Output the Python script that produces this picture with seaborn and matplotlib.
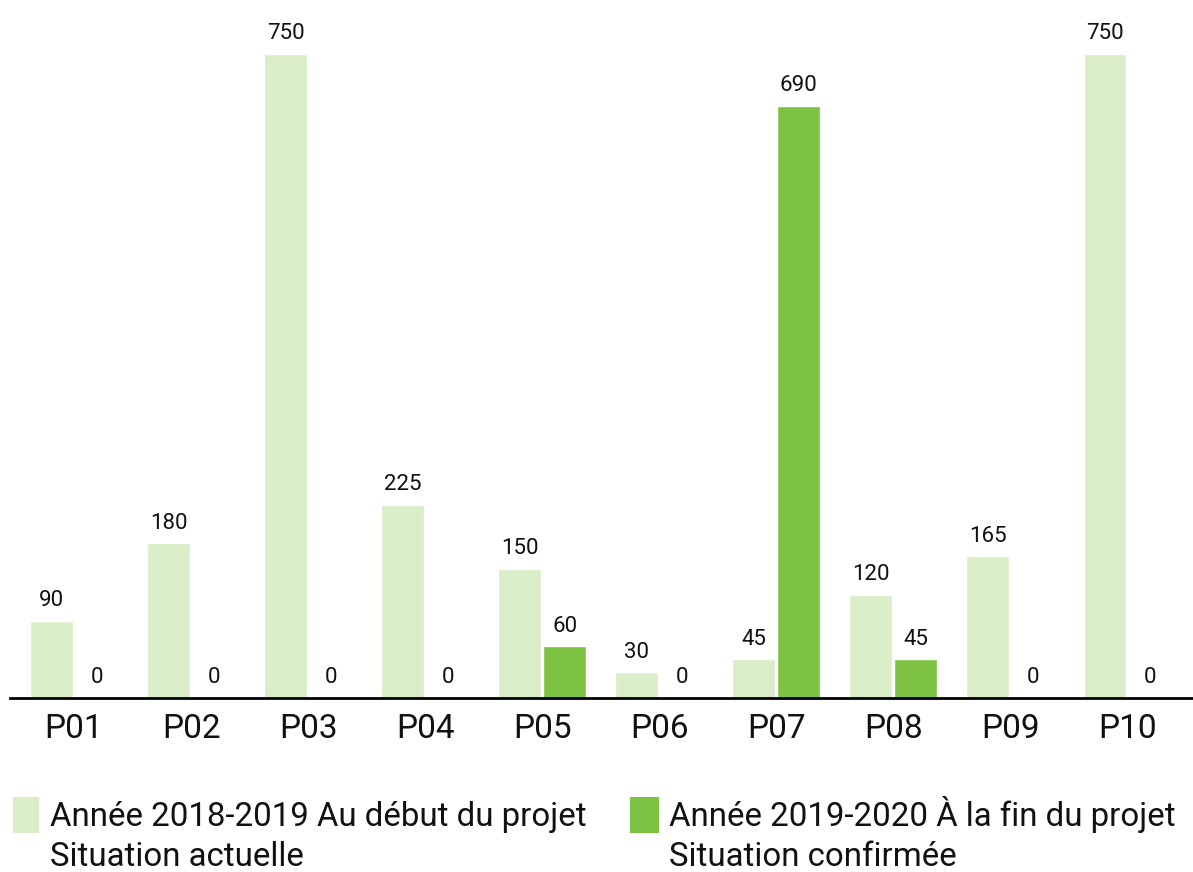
import pandas as pd
import matplotlib.pyplot as plt
import seaborn as sns
from matplotlib.patches import Rectangle

projets = ["P01", "P02", "P03", "P04", "P05", "P06", "P07", "P08", "P09", "P10"]
debut = [90, 180, 750, 225, 150, 30, 45, 120, 165, 750]
fin = [0, 0, 0, 0, 60, 0, 690, 45, 0, 0]
series = ["Année 2018-2019 Au début du projet\nSituation actuelle",
          "Année 2019-2020 À la fin du projet\nSituation confirmée"]
couleurs = ["#d9edc9", "#7dc242"]

df = pd.DataFrame({
    "Projet": projets * 2,
    "Valeur": debut + fin,
    "Serie": [series[0]] * len(projets) + [series[1]] * len(projets),
})

sns.set_style("white")
plt.rcParams['font.family'] = ['Roboto', 'DejaVu Sans']

W, H = 1193, 872
fig = plt.figure(figsize=(W / 100, H / 100), dpi=100)
ax = fig.add_axes([10 / W, 174 / H, 1 - 10 / W, 1 - 174 / H])

sns.barplot(ax=ax, data=df, x="Projet", y="Valeur", hue="Serie",
            palette=couleurs, saturation=1, width=0.77, gap=0.05, legend=False)

for cont in ax.containers:
    ax.bar_label(cont, fmt="%d", padding=7, fontsize=16, color="#111111")

ax.set_xlim(-0.547, 9.56)
ax.set_ylim(0, 813)
ax.set_xlabel("")
ax.set_ylabel("")
ax.set_yticks([])
ax.tick_params(axis="x", labelsize=24, length=0, pad=11, colors="#111111")
for s in ["top", "right", "left"]:
    ax.spines[s].set_visible(False)
ax.spines["bottom"].set_color("black")
ax.spines["bottom"].set_linewidth(2)

# legende en bas, faite a la main (carre aligne sur la premiere ligne)
for x_patch, w_patch, x_txt, lab, c in [(13, 26, 50, series[0], couleurs[0]),
                                        (630, 29, 669, series[1], couleurs[1])]:
    fig.add_artist(Rectangle((x_patch / W, 1 - 833 / H), w_patch / W, 36 / H,
                             transform=fig.transFigure, color=c, lw=0))
    fig.text(x_txt / W, 1 - 866 / H, lab, fontsize=23.8, va="baseline", ha="left",
             color="#111111", linespacing=1.32)

fig.savefig("out.png", dpi=100)
